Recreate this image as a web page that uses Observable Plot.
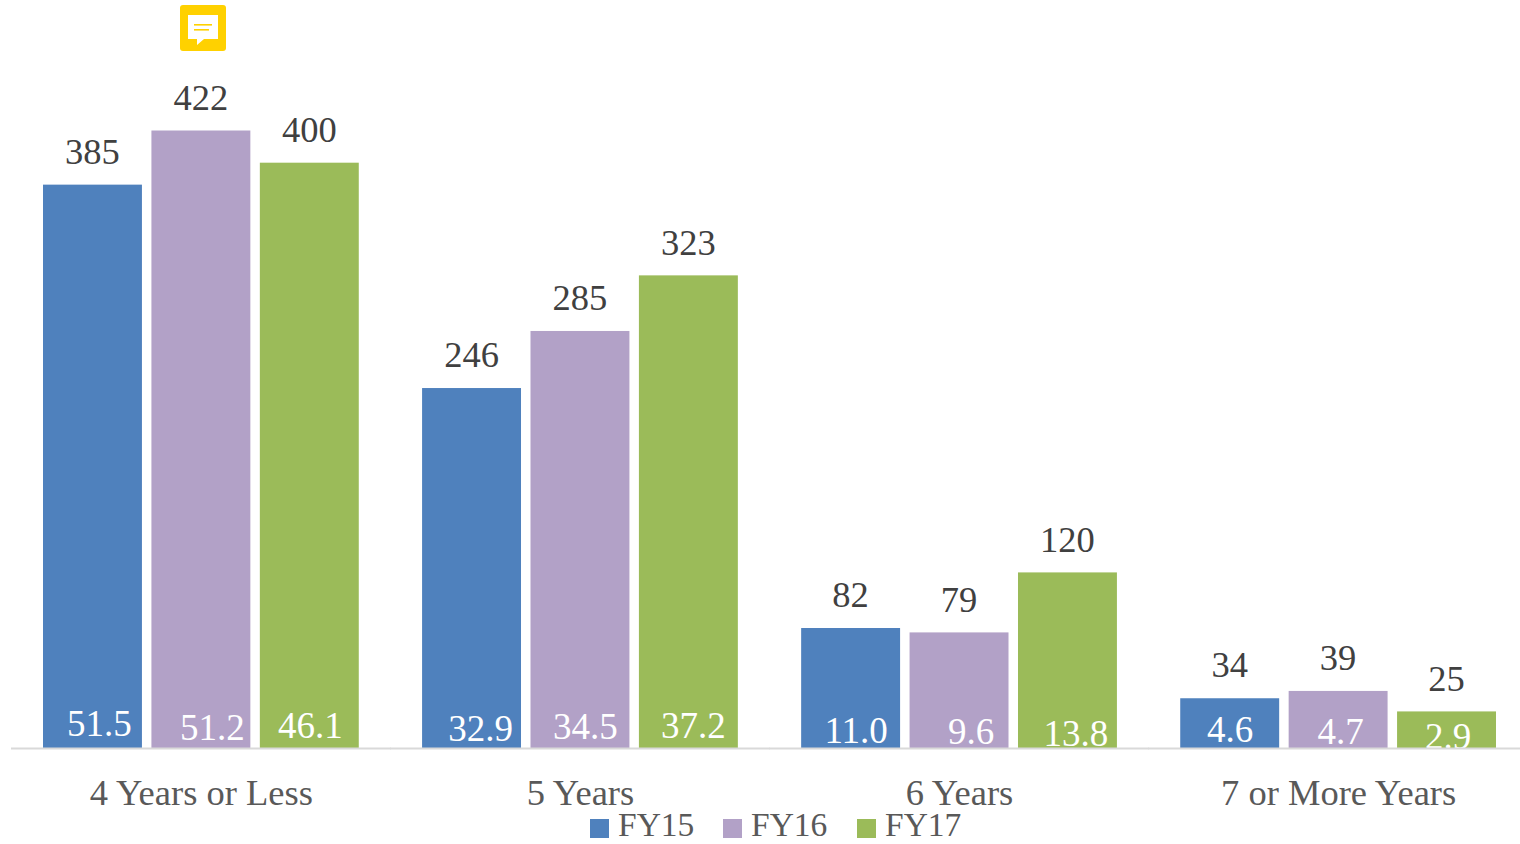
<!DOCTYPE html>
<html>
<head>
<meta charset="utf-8">
<script src="https://cdn.jsdelivr.net/npm/d3@7"></script>
<script src="https://cdn.jsdelivr.net/npm/@observablehq/plot@0.6"></script>
<style>
html,body{margin:0;padding:0;background:#fff;}
#wrap{position:relative;width:1520px;height:844px;overflow:hidden;font-family:"Liberation Serif",serif;}
#legend{position:absolute;left:0;top:812px;width:1520px;height:32px;}
#legend .sw{position:absolute;top:7px;width:19px;height:19px;}
#legend .lb{position:absolute;top:-6px;font-size:33.5px;line-height:38px;color:#595959;white-space:nowrap;}
#icon{position:absolute;left:180px;top:5px;}
</style>
</head>
<body>
<div id="wrap"></div>
<script>
const categories = ["4 Years or Less", "5 Years", "6 Years", "7 or More Years"];
const seriesNames = ["FY15", "FY16", "FY17"];
const seriesColors = ["#4F81BD", "#B2A1C7", "#9BBB59"];
const fy15Counts = [385, 246, 82, 34];
const fy16Counts = [422, 285, 79, 39];
const fy17Counts = [400, 323, 120, 25];
const fy15Shares = ["51.5", "32.9", "11.0", "4.6"];
const fy16Shares = ["51.2", "34.5", "9.6", "4.7"];
const fy17Shares = ["46.1", "37.2", "13.8", "2.9"];
const shareDx = [[6.5, 8.5, 5, 0], [11, 5, 11.5, 2], [0.5, 4.5, 8, 1]];
const shareDy = [[-24, -19, -17, -18], [-20, -21, -16, -16], [-22, -22, -14, -11]];

const counts = [fy15Counts, fy16Counts, fy17Counts];
const shares = [fy15Shares, fy16Shares, fy17Shares];
const rows = seriesNames.flatMap((s, si) => categories.map((c, ci) => ({
  category: c, series: s, count: counts[si][ci], share: shares[si][ci],
  dx: shareDx[si][ci], dy: shareDy[si][ci]
})));

const chart = Plot.plot({
  width: 1520,
  height: 844,
  marginLeft: 43,
  marginRight: 24,
  marginTop: 130.5,
  marginBottom: 96,
  style: {fontFamily: "'Liberation Serif', serif", background: "#fff"},
  fx: {domain: categories, padding: 0.167, round: false, label: null},
  x: {domain: seriesNames, paddingInner: 0.0875, paddingOuter: 0, round: false, axis: null},
  y: {domain: [0, 422], axis: null},
  color: {domain: seriesNames, range: seriesColors},
  marks: [
    Plot.barY(rows, {fx: "category", x: "series", y: "count", fill: "series"}),
    Plot.text(rows, {fx: "category", x: "series", y: "count", text: d => String(d.count),
      dx: -0.5, dy: -33, lineAnchor: "middle", fontSize: 36.5, fill: "#404040"}),
    ...rows.map(d => Plot.text([d], {fx: "category", x: "series", y: () => 0, text: "share",
      dx: d.dx, dy: d.dy, lineAnchor: "middle", fontSize: 37, fill: "#ffffff"})),
    Plot.ruleY(categories.map(c => ({c})), {fx: "c", y: () => 0, stroke: "#D9D9D9", strokeWidth: 2,
      insetLeft: -32, insetRight: -32}),
    Plot.axisFx({anchor: "bottom", tickSize: 0, tickPadding: 31, label: null, fontSize: 36.5, fill: "#595959"})
  ]
});

const wrap = document.getElementById("wrap");
chart.style.display = "block";
wrap.appendChild(chart);

const legend = document.createElement("div");
legend.id = "legend";
const swatchLefts = [590, 723, 857];
seriesNames.forEach((s, i) => {
  const sw = document.createElement("div");
  sw.className = "sw";
  sw.style.left = swatchLefts[i] + "px";
  sw.style.background = seriesColors[i];
  const lb = document.createElement("div");
  lb.className = "lb";
  lb.style.left = (swatchLefts[i] + 28) + "px";
  lb.textContent = s;
  legend.append(sw, lb);
});
wrap.appendChild(legend);

const icon = document.createElement("div");
icon.id = "icon";
icon.innerHTML = `<svg width="46" height="46" viewBox="0 0 46 46">
<rect width="46" height="46" rx="3" fill="#FFD100"/>
<path d="M8 10H38V34H24L17 40V34H8Z" fill="#fff"/>
<rect x="14" y="19" width="18" height="1.6" fill="#FFD100"/>
<rect x="14" y="24" width="15" height="1.6" fill="#FFD100"/>
</svg>`;
wrap.appendChild(icon);
</script>
</body>
</html>
